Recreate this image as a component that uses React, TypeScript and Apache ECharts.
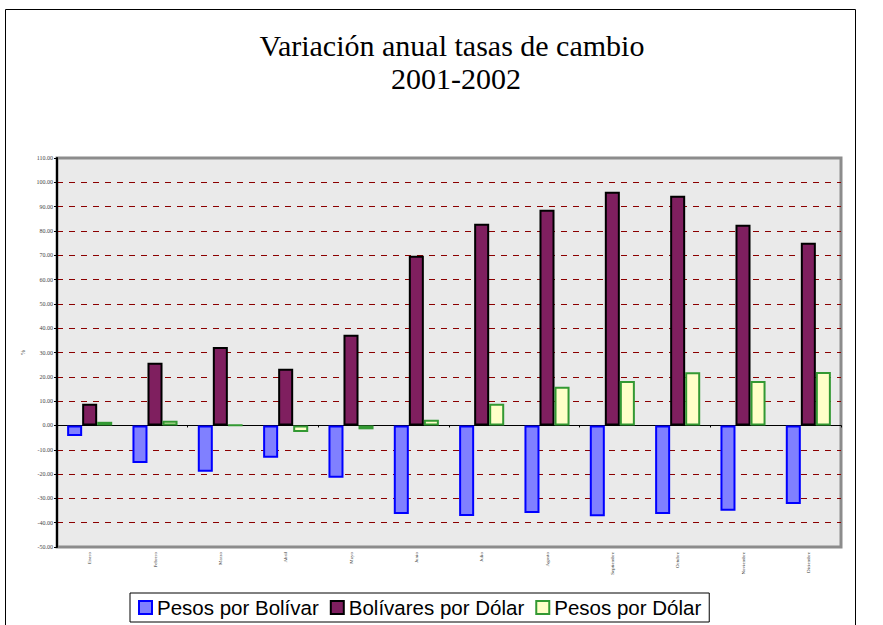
import React, { useEffect, useRef } from "react";
import * as echarts from "echarts";

const categories = ["Enero", "Febrero", "Marzo", "Abril", "Mayo", "Junio", "Julio", "Agosto", "Septiembre", "Octubre", "Noviembre", "Diciembre"];
const pesosPorBolivar = [-4.3, -15.5, -19.0, -13.3, -21.5, -36.4, -37.2, -36.0, -37.4, -36.4, -35.1, -32.3];
const bolivaresPorDolar = [8.9, 25.8, 32.3, 23.3, 37.3, 69.8, 83.0, 88.7, 96.1, 94.5, 82.5, 75.1];
const pesosPorDolar = [1.5, 1.9, 0.2, -2.7, -1.6, 2.3, 8.9, 15.9, 18.3, 21.9, 18.3, 22.0];
const seriesNames = ["Pesos por Bolívar", "Bolívares por Dólar", "Pesos por Dólar"];
const titleLines = ["Variación anual tasas de cambio", "2001-2002"];

export default function App() {
  const ref = useRef<HTMLDivElement>(null);
  useEffect(() => {
    if (!ref.current) return;
    const chart = echarts.init(ref.current, null, { renderer: "svg" });
    const barBase = { type: "bar", barGap: "0%", barCategoryGap: "31%", xAxisIndex: 0 };
    chart.setOption({
      animation: false,
      backgroundColor: "#ffffff",
      graphic: [
        { type: "rect", shape: { x: 5.5, y: 9.5, width: 850, height: 700 }, style: { fill: "none", stroke: "#000", lineWidth: 1 }, silent: true, z: -10 },
        { type: "text", x: 452, y: 45, style: { text: titleLines[0], font: "30px 'Liberation Serif'", fill: "#000", textAlign: "center", textVerticalAlign: "middle" } },
        { type: "text", x: 456, y: 78, style: { text: titleLines[1], font: "30px 'Liberation Serif'", fill: "#000", textAlign: "center", textVerticalAlign: "middle" } },
      ],
      grid: {
        left: 57, top: 158, right: 42, bottom: 78,
        show: true, backgroundColor: "#eaeaea", borderColor: "#8c8c8c", borderWidth: 3,
      },
      legend: {
        data: seriesNames,
        left: 130, top: 593,
        orient: "horizontal",
        itemWidth: 13, itemHeight: 13, itemGap: 11,
        padding: [4, 8, 4, 8],
        borderColor: "#000", borderWidth: 1,
        backgroundColor: "#fff",
        icon: "rect",
        textStyle: { fontFamily: "'Liberation Sans', Arial", fontSize: 20.5, color: "#000" },
      },
      xAxis: [
        {
          type: "category", data: categories, position: "bottom",
          axisLine: { show: false, onZero: false }, axisTick: { show: false },
          axisLabel: { rotate: 90, fontSize: 5, fontFamily: "'Liberation Serif'", color: "#333", margin: 5, interval: 0 },
          splitLine: { show: false },
        },
        {
          type: "category", data: categories, position: "bottom",
          axisLine: { show: true, onZero: true, lineStyle: { color: "#000", width: 1 } },
          axisTick: { show: true, length: 2, lineStyle: { color: "#000" } },
          axisLabel: { show: false },
          splitLine: { show: false },
        },
      ],
      yAxis: {
        type: "value", min: -50, max: 110, interval: 10,
        name: "%", nameLocation: "middle", nameGap: 27, nameRotate: 90,
        nameTextStyle: { fontSize: 6, fontFamily: "'Liberation Serif'", color: "#333" },
        axisLine: { show: true, lineStyle: { color: "#000", width: 2 } },
        axisTick: { show: true, length: 3, lineStyle: { color: "#000" } },
        axisLabel: { fontSize: 6, fontFamily: "'Liberation Serif'", color: "#444", margin: 4, formatter: (v: number) => v.toFixed(2) },
        splitLine: { show: true, showMaxLine: false, showMinLine: false, lineStyle: { color: "#8b0000", type: [6, 6], width: 1 } },
      },
      series: [
        { ...barBase, name: seriesNames[0], data: pesosPorBolivar, itemStyle: { color: "#8080ff", borderColor: "#0000ff", borderWidth: 2 } },
        { ...barBase, name: seriesNames[1], data: bolivaresPorDolar, itemStyle: { color: "#7f1f5f", borderColor: "#000000", borderWidth: 2 } },
        { ...barBase, name: seriesNames[2], data: pesosPorDolar, itemStyle: { color: "#ffffc8", borderColor: "#339933", borderWidth: 2 } },
      ],
    });
    return () => chart.dispose();
  }, []);
  return <div ref={ref} style={{ position: "fixed", left: 0, top: 0, width: 883, height: 625 }} />;
}
